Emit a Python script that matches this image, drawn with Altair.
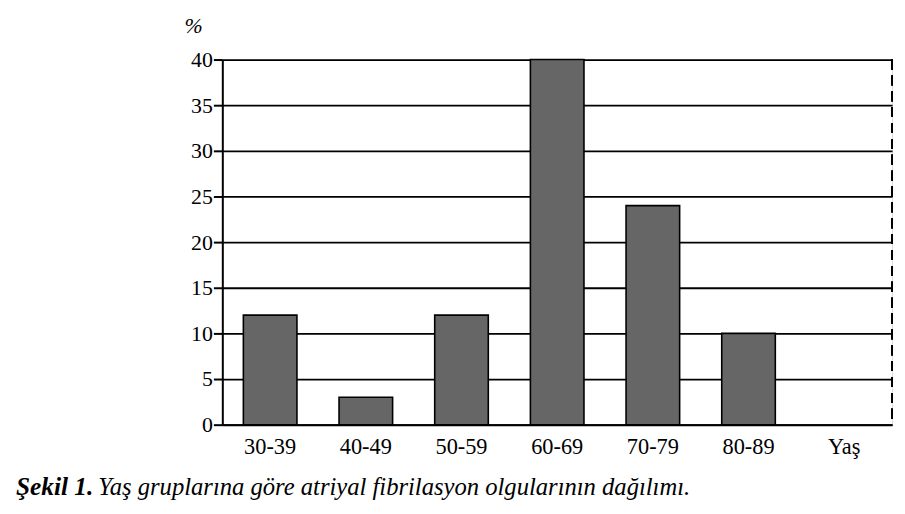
import altair as alt
import pandas as pd

categories = ["30-39", "40-49", "50-59", "60-69", "70-79", "80-89", "Yaş"]
values = [12, 3, 12, 40, 24, 10, None]
y_ticks = [0, 5, 10, 15, 20, 25, 30, 35, 40]
caption_bold = "Şekil 1."
caption_rest = "Yaş gruplarına göre atriyal fibrilasyon olgularının dağılımı."
y_unit = "%"

df = pd.DataFrame({"grup": categories, "yuzde": values})

W, H = 675, 368
FONT = "'Liberation Serif', 'Times New Roman', 'DejaVu Serif', serif"

base = alt.Chart(df)

bars = base.mark_bar(color="#666666", stroke="black", strokeWidth=1.6).encode(
    x=alt.X(
        "grup:N",
        sort=categories,
        scale=alt.Scale(domain=categories, paddingInner=0.44, paddingOuter=0.22),
        axis=alt.Axis(
            title=None, labelAngle=0, ticks=False, labelPadding=11,
            labelFontSize=22.5, labelFont=FONT, labelColor="black",
            domainColor="black", domainWidth=2, grid=False,
        ),
    ),
    y=alt.Y(
        "yuzde:Q",
        scale=alt.Scale(domain=[0, 40], nice=False),
        axis=alt.Axis(
            title=None, values=y_ticks, tickSize=9, tickColor="black", tickWidth=2,
            labelPadding=1, labelFontSize=22, labelFont=FONT, labelColor="black",
            domainColor="black", domainWidth=2,
            grid=True, gridColor="black", gridWidth=1.8, gridOpacity=1,
        ),
    ),
)

right_line = base.mark_rule(color="black", strokeWidth=1.8, strokeDash=[10, 6]).encode(
    x=alt.value(W), y=alt.value(0), y2=alt.value(H)
)

unit_text = alt.Chart(pd.DataFrame({"t": [y_unit]})).mark_text(
    font=FONT, fontSize=22, fontStyle="italic", align="center", baseline="alphabetic", color="black"
).encode(text="t:N", x=alt.value(-29), y=alt.value(-27))

cap1 = alt.Chart(pd.DataFrame({"t": [caption_bold]})).mark_text(
    font=FONT, fontSize=25.5, fontStyle="italic", fontWeight="bold", align="left",
    baseline="alphabetic", color="black"
).encode(text="t:N", x=alt.value(-208), y=alt.value(H + 71))

cap2 = alt.Chart(pd.DataFrame({"t": [caption_rest]})).mark_text(
    font=FONT, fontSize=24.8, fontStyle="italic", align="left",
    baseline="alphabetic", color="black"
).encode(text="t:N", x=alt.value(-125), y=alt.value(H + 71))

chart = alt.layer(bars, right_line, unit_text, cap1, cap2).properties(
    width=W, height=H,
    autosize=alt.AutoSizeParams(type="none"),
    padding={"left": 216, "top": 50, "right": 5, "bottom": 80},
).configure_view(stroke=None).configure(background="white")

chart.save("out.html", embed_options={"renderer": "svg", "actions": False})
